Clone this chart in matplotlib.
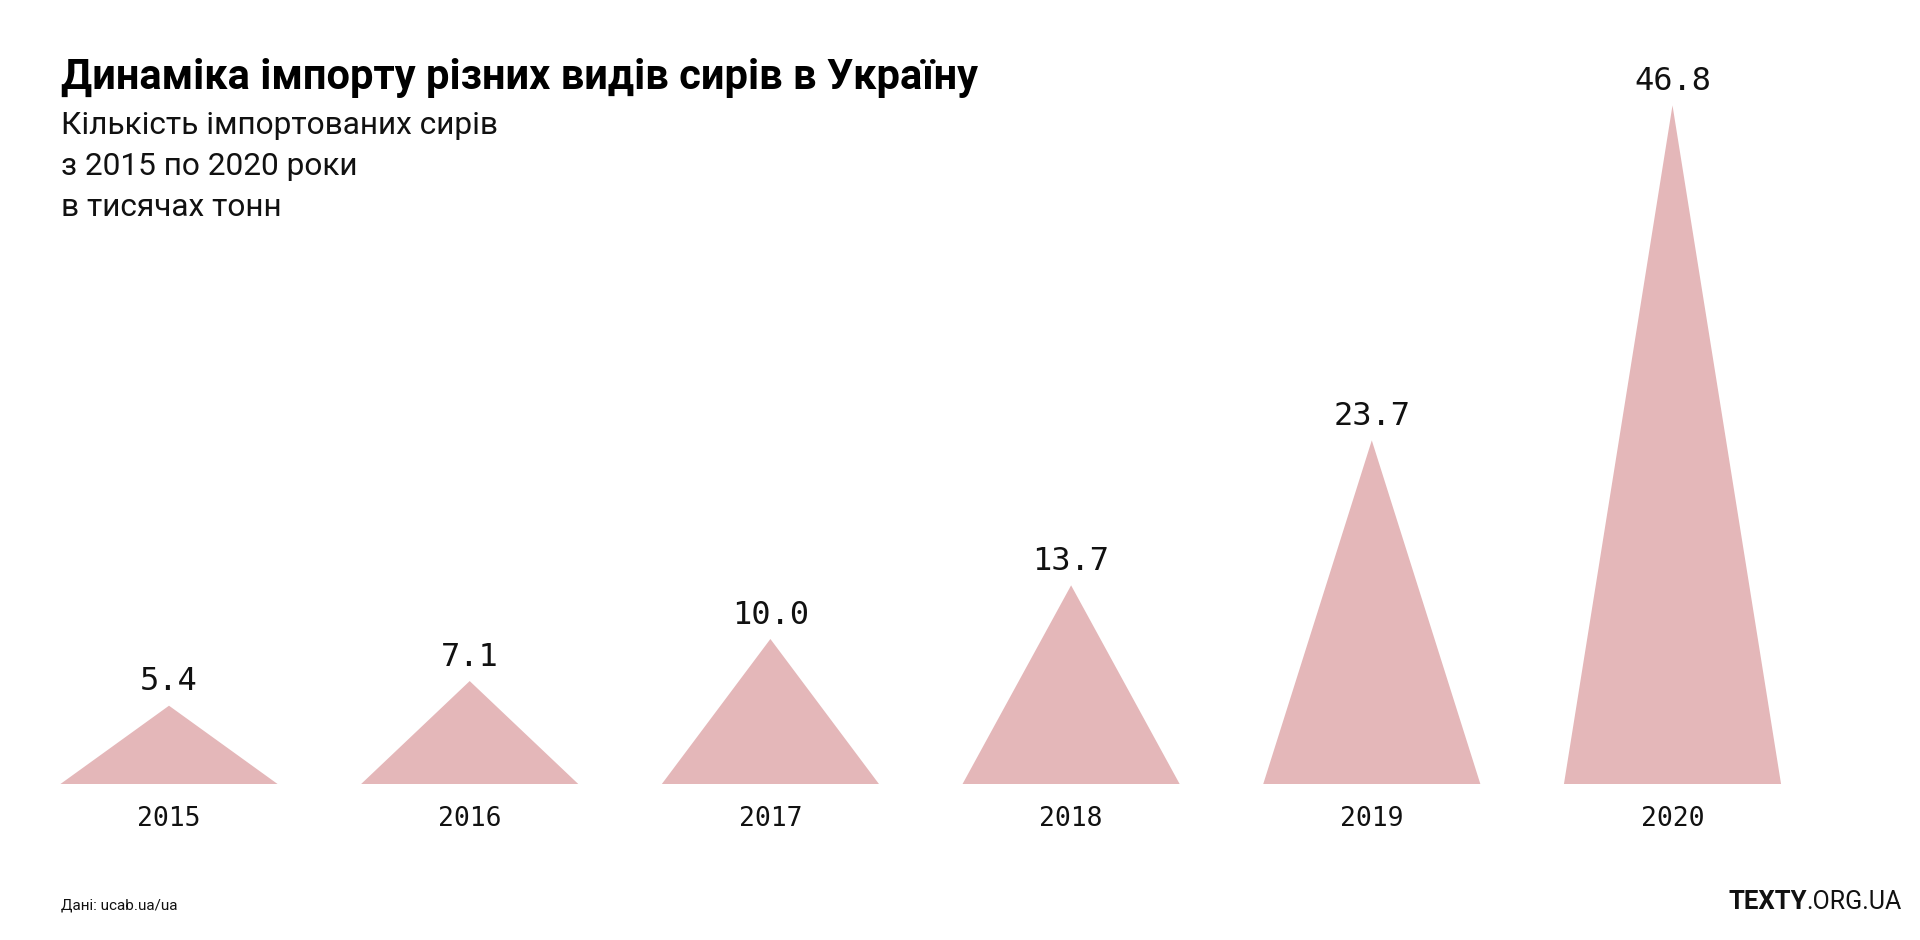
import matplotlib
matplotlib.use("Agg")
import matplotlib.pyplot as plt

years = ["2015", "2016", "2017", "2018", "2019", "2020"]
values = [5.4, 7.1, 10.0, 13.7, 23.7, 46.8]
value_labels = ["5.4", "7.1", "10.0", "13.7", "23.7", "46.8"]

title = "Динаміка імпорту різних видів сирів в Україну"
subtitle = "Кількість імпортованих сирів\nз 2015 по 2020 роки\nв тисячах тонн"
source = "Дані: ucab.ua/ua"

COLOR = "#e4b7b9"
W, H = 1920, 940
fig = plt.figure(figsize=(W / 100, H / 100), dpi=100)

base_px = 784
top_px = 59
ymax = 50
ax = fig.add_axes([0, (H - base_px) / H, 1, (base_px - top_px) / H])
spacing = 300.7
x0 = 169
ax.set_xlim(-x0 / spacing, (W - x0) / spacing)
ax.set_ylim(0, ymax)
ax.axis("off")

half = 0.361
for i, (v, lab) in enumerate(zip(values, value_labels)):
    ax.fill([i - half, i, i + half], [0, v, 0], color=COLOR, lw=0)
    ax.annotate(lab, (i, v), xytext=(0, 6), textcoords="offset points",
                ha="center", va="bottom", fontsize=23, family="DejaVu Sans Mono",
                color="#111111")
    ax.annotate(years[i], (i, 0), xytext=(0, -16), textcoords="offset points",
                ha="center", va="top", fontsize=19, family="DejaVu Sans Mono",
                color="#111111")

fig.text(61 / W, 1 - 78 / H, title, ha="left", va="center", fontsize=30,
         fontweight="bold", family="Roboto", color="#000000")
sub_lines = subtitle.split("\n")
for k, line in enumerate(sub_lines):
    fig.text(61 / W, 1 - (126 + 40.5 * k) / H, line, ha="left", va="center",
             fontsize=22.8, family="Roboto", color="#111111")
fig.text(61 / W, 1 - 905 / H, source, ha="left", va="center", fontsize=11,
         family="Roboto", color="#111111")

t1 = fig.text(1902 / W, 1 - 902 / H, ".ORG.UA", ha="right", va="center",
              fontsize=18, family="Roboto", color="#111111")
fig.canvas.draw()
bb = t1.get_window_extent()
fig.text(bb.x0 / W, 1 - 902 / H, "TEXTY", ha="right", va="center",
         fontsize=18.5, family="Roboto", fontweight="bold", color="#111111")

fig.savefig("out.png", dpi=100, facecolor="white")
